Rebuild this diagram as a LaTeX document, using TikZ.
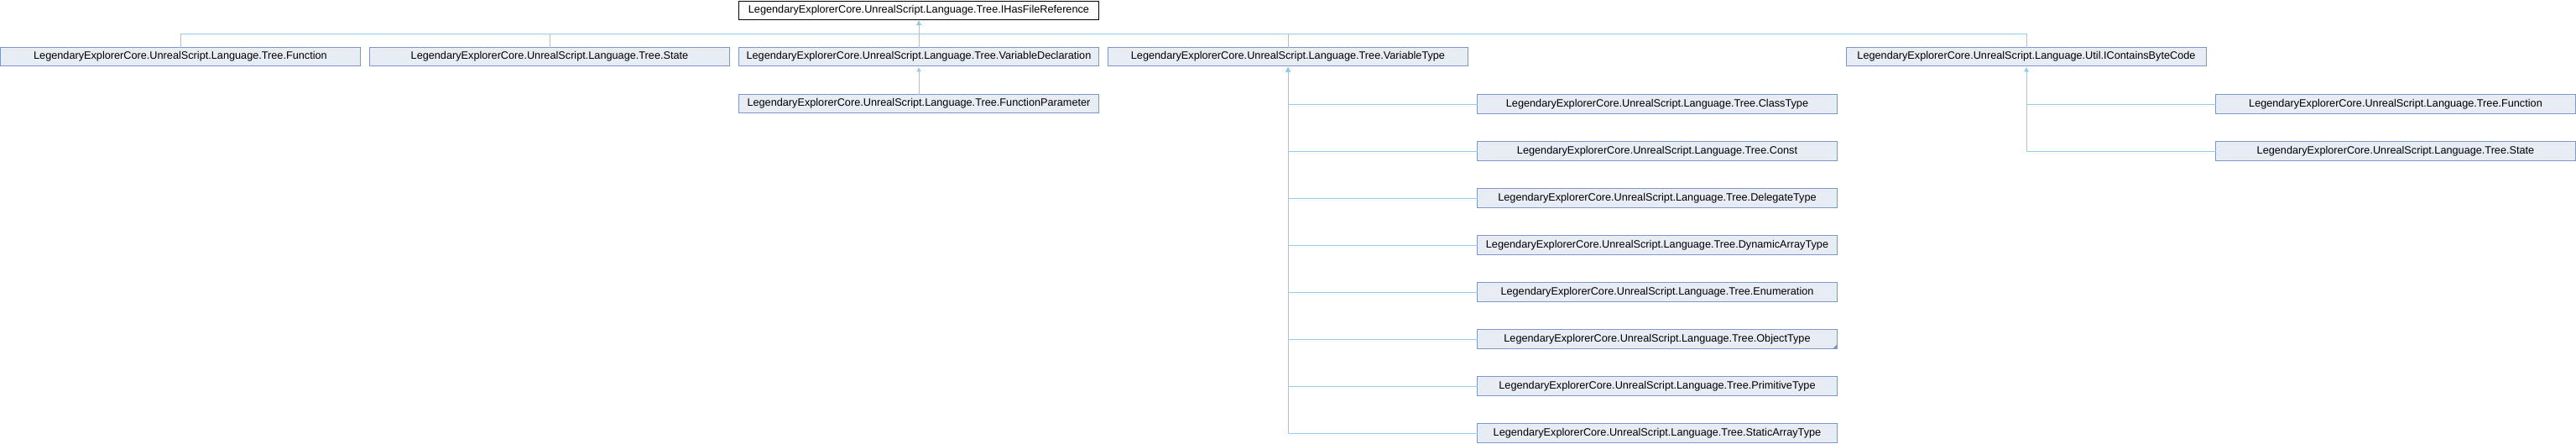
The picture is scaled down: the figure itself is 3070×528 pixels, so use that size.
\documentclass[tikz,border=0pt]{standalone}
\usepackage{fontspec}
\setmainfont{Liberation Sans}
\usetikzlibrary{positioning}
\usetikzlibrary{arrows.meta}

\definecolor{boxfill}{HTML}{E8ECF5}
\definecolor{boxline}{HTML}{7F97C9}
\definecolor{edgeblue}{HTML}{94CBEC}

\begin{document}
\begin{tikzpicture}[x=1pt, y=-1pt,
        cls/.style={draw=boxline, fill=boxfill, line width=1pt, minimum width=429pt, minimum height=22.3pt, inner sep=0pt, outer sep=0pt, font=\fontsize{12.7pt}{15pt}\selectfont},
        root/.style={cls, draw=black, fill=white},
        edge/.style={edgeblue, line width=1pt, -{Triangle[length=5pt, width=5pt]}, shorten >=1.5pt}]
            \useasboundingbox (0,0) rectangle (3070,528);

            \node[root] (IFR) at (1095,12.2) {LegendaryExplorerCore.UnrealScript.Language.Tree.IHasFileReference};

            \node[cls] (FN) at (215,67.7) {LegendaryExplorerCore.UnrealScript.Language.Tree.Function};
            \node[cls, right = 11pt of FN] (ST) {LegendaryExplorerCore.UnrealScript.Language.Tree.State};
            \node[cls, right = 11pt of ST] (VD) {LegendaryExplorerCore.UnrealScript.Language.Tree.VariableDeclaration};
            \node[cls, right = 11pt of VD] (VT) {LegendaryExplorerCore.UnrealScript.Language.Tree.VariableType};
            \node[cls, right = 451pt of VT] (CBC) {LegendaryExplorerCore.UnrealScript.Language.Util.IContainsByteCode};

            \node[cls, below = 33.7pt of VD] (FP) {LegendaryExplorerCore.UnrealScript.Language.Tree.FunctionParameter};

            \node[cls] (CT) at (1975,124) {LegendaryExplorerCore.UnrealScript.Language.Tree.ClassType};
            \node[cls, below = 33.7pt of CT] (CO) {LegendaryExplorerCore.UnrealScript.Language.Tree.Const};
            \node[cls, below = 33.7pt of CO] (DT) {LegendaryExplorerCore.UnrealScript.Language.Tree.DelegateType};
            \node[cls, below = 33.7pt of DT] (DA) {LegendaryExplorerCore.UnrealScript.Language.Tree.DynamicArrayType};
            \node[cls, below = 33.7pt of DA] (EN) {LegendaryExplorerCore.UnrealScript.Language.Tree.Enumeration};
            \node[cls, below = 33.7pt of EN] (OT) {LegendaryExplorerCore.UnrealScript.Language.Tree.ObjectType};
            \node[cls, below = 33.7pt of OT] (PT) {LegendaryExplorerCore.UnrealScript.Language.Tree.PrimitiveType};
            \node[cls, below = 33.7pt of PT] (SA) {LegendaryExplorerCore.UnrealScript.Language.Tree.StaticArrayType};

            \node[cls] (FN2) at (2855,124) {LegendaryExplorerCore.UnrealScript.Language.Tree.Function};
            \node[cls, below = 33.7pt of FN2] (ST2) {LegendaryExplorerCore.UnrealScript.Language.Tree.State};

            % truncated marker
            \fill[boxline] (OT.south east) -- ++(-5pt,0pt) -- ++(5pt,5pt) -- cycle;

            \coordinate (bus) at (1095,40);

            \draw[edge] (VD.north) -- (IFR.south);
            \draw[edge] (FN.north) |- (bus) -- (IFR.south);
            \draw[edge] (ST.north) |- (bus) -- (IFR.south);
            \draw[edge] (VT.north) |- (bus) -- (IFR.south);
            \draw[edge] (CBC.north) |- (bus) -- (IFR.south);

            \draw[edge] (FP.north) -- (VD.south);

            \draw[edge] (CT.west) -| (VT.south);
            \draw[edge] (CO.west) -| (VT.south);
            \draw[edge] (DT.west) -| (VT.south);
            \draw[edge] (DA.west) -| (VT.south);
            \draw[edge] (EN.west) -| (VT.south);
            \draw[edge] (OT.west) -| (VT.south);
            \draw[edge] (PT.west) -| (VT.south);
            \draw[edge] (SA.west) -| (VT.south);

            \draw[edge] (FN2.west) -| (CBC.south);
            \draw[edge] (ST2.west) -| (CBC.south);
        \end{tikzpicture}
\end{document}
